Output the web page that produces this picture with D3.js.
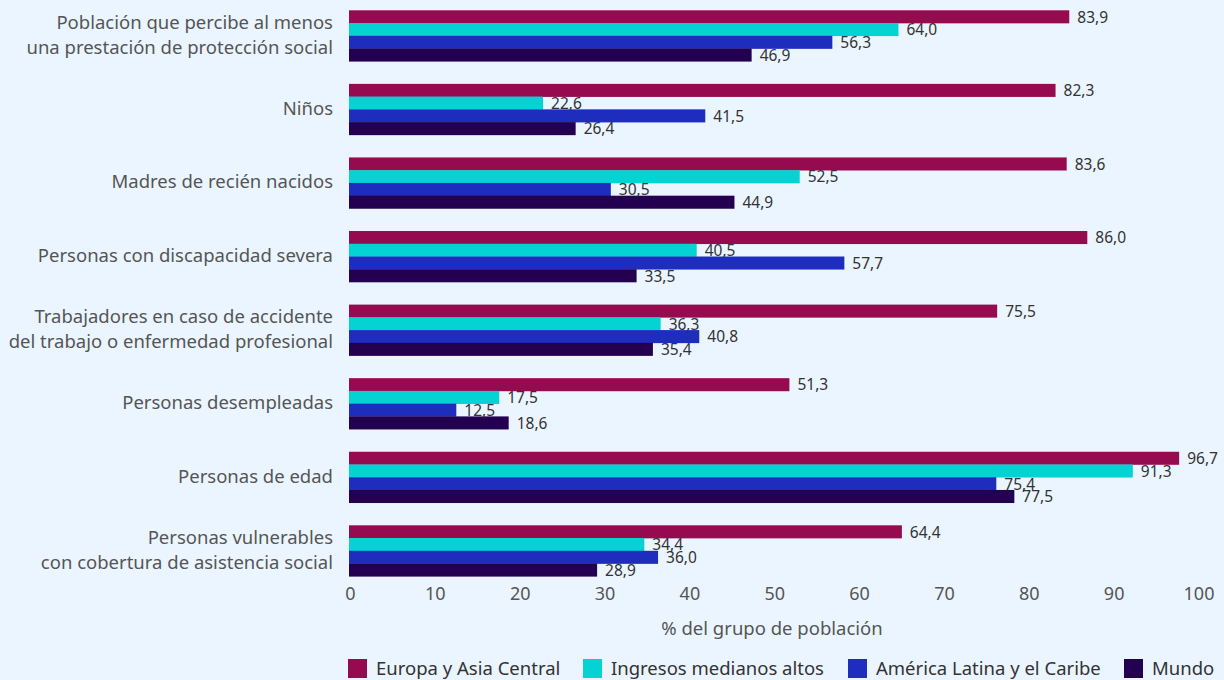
<!DOCTYPE html>
<html>
<head>
<meta charset="utf-8">
<script src="https://cdn.jsdelivr.net/npm/d3@7"></script>
<style>
  html, body { margin: 0; padding: 0; background: #EBF5FF; }
  svg { display: block; font-family: "Noto Sans", "Open Sans", sans-serif; }
</style>
</head>
<body>
<svg id="chart" width="1224" height="680"></svg>
<script>
// Social protection coverage by population group (% of group)
const categories = [
  ["Población que percibe al menos", "una prestación de protección social"],
  ["Niños"],
  ["Madres de recién nacidos"],
  ["Personas con discapacidad severa"],
  ["Trabajadores en caso de accidente", "del trabajo o enfermedad profesional"],
  ["Personas desempleadas"],
  ["Personas de edad"],
  ["Personas vulnerables", "con cobertura de asistencia social"]
];
const seriesNames = ["Europa y Asia Central", "Ingresos medianos altos", "América Latina y el Caribe", "Mundo"];
const europa   = [83.9, 82.3, 83.6, 86.0, 75.5, 51.3, 96.7, 64.4];
const ingresos = [64.0, 22.6, 52.5, 40.5, 36.3, 17.5, 91.3, 34.4];
const america  = [56.3, 41.5, 30.5, 57.7, 40.8, 12.5, 75.4, 36.0];
const mundo    = [46.9, 26.4, 44.9, 33.5, 35.4, 18.6, 77.5, 28.9];
const xTicks = [0, 10, 20, 30, 40, 50, 60, 70, 80, 90, 100];
const colors = ["#960A50", "#05D2D2", "#1E2DBE", "#230050"];

const series = [europa, ingresos, america, mundo];
const svg = d3.select("#chart");

// Bar length scale and the axis scale
const xBar = d3.scaleLinear().domain([0, 100]).range([349, 1207.5]);
const xAxisScale = d3.scaleLinear().domain([0, 100]).range([350, 1198.5]);
const keys = categories.map((c, i) => i);
const y = d3.scaleBand().domain(keys).range([10.3, 576.3]).paddingInner(0.307).paddingOuter(0);
const ySub = d3.scaleBand().domain(d3.range(seriesNames.length)).range([0, y.bandwidth()]);

const fmt = v => v.toFixed(1).replace(".", ",");

// Bars
const groups = svg.append("g").selectAll("g")
  .data(keys)
  .join("g")
  .attr("transform", i => `translate(0,${y(i)})`);

groups.selectAll("rect")
  .data(i => series.map((s, k) => ({ k, v: s[i] })))
  .join("rect")
  .attr("x", xBar(0))
  .attr("y", d => ySub(d.k))
  .attr("width", d => xBar(d.v) - xBar(0))
  .attr("height", ySub.bandwidth() + 0.3)
  .attr("fill", d => colors[d.k]);

// Value labels
groups.selectAll("text")
  .data(i => series.map((s, k) => ({ k, v: s[i] })))
  .join("text")
  .attr("x", d => xBar(d.v) + 8)
  .attr("y", d => ySub(d.k) + ySub.bandwidth() / 2 + 0.5)
  .attr("dy", "0.35em")
  .attr("font-size", 15.5)
  .attr("fill", "#333333")
  .text(d => fmt(d.v));

// Category labels
const catLabels = svg.append("g").selectAll("text")
  .data(keys)
  .join("text")
  .attr("text-anchor", "end")
  .attr("x", 333)
  .attr("font-size", 18.5)
  .attr("fill", "#555555");
catLabels.each(function (i) {
  const lines = categories[i];
  const cy = y(i) + y.bandwidth() / 2 - 1;
  const lh = 24.5;
  const t = d3.select(this);
  lines.forEach((line, j) => {
    t.append("tspan")
      .attr("x", 333)
      .attr("y", cy + (j - (lines.length - 1) / 2) * lh)
      .attr("dy", "0.35em")
      .text(line);
  });
});

// X axis (labels only)
const xAxis = d3.axisBottom(xAxisScale).tickValues(xTicks).tickSize(0).tickPadding(0).tickFormat(d3.format("d"));
const ax = svg.append("g").attr("transform", "translate(0,587)").call(xAxis);
ax.select(".domain").remove();
ax.selectAll("text")
  .attr("font-size", 18)
  .attr("font-family", "\"Noto Sans\", \"Open Sans\", sans-serif")
  .attr("fill", "#555555");

svg.append("text")
  .attr("x", 772)
  .attr("y", 629)
  .attr("dy", "0.35em")
  .attr("text-anchor", "middle")
  .attr("font-size", 18.5)
  .attr("fill", "#555555")
  .text("% del grupo de población");

// Legend
const legendX = [348, 583, 848, 1124];
const legend = svg.append("g").selectAll("g")
  .data(seriesNames)
  .join("g")
  .attr("transform", (d, i) => `translate(${legendX[i]},659)`);
legend.append("rect")
  .attr("width", 19).attr("height", 19)
  .attr("fill", (d, i) => colors[i]);
legend.append("text")
  .attr("x", 28).attr("y", 9.5).attr("dy", "0.35em")
  .attr("font-size", 18.5)
  .attr("fill", "#333333")
  .text(d => d);
</script>
</body>
</html>
